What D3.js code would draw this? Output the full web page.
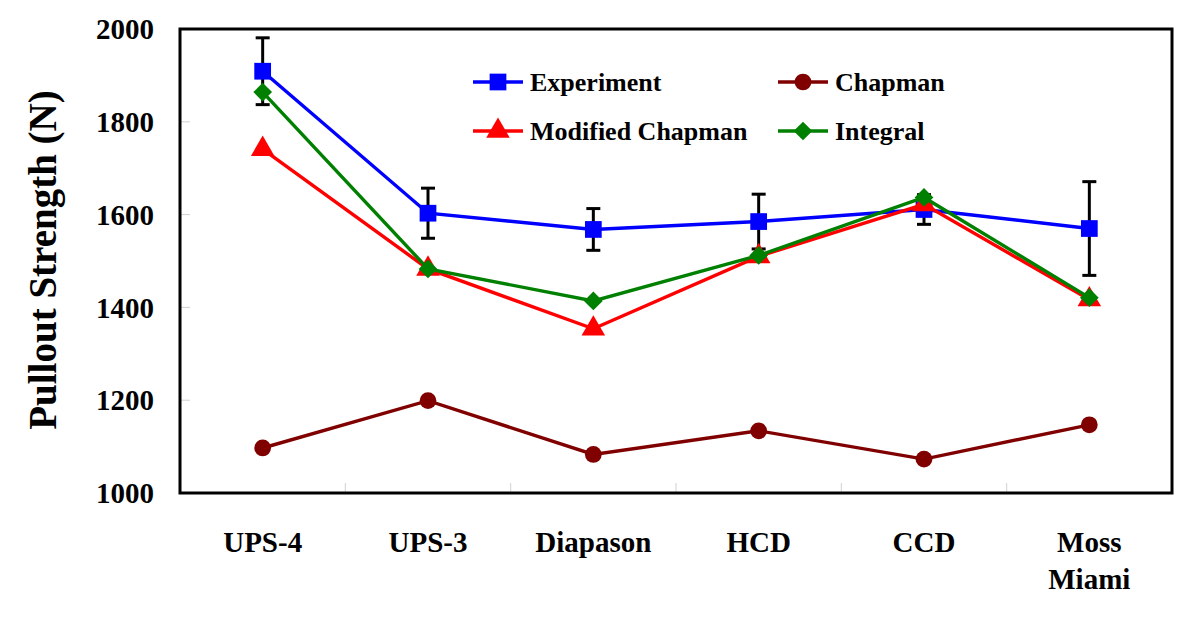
<!DOCTYPE html>
<html>
<head>
<meta charset="utf-8">
<script src="https://cdn.jsdelivr.net/npm/d3@7/dist/d3.min.js"></script>
<style>
  html, body { margin: 0; padding: 0; background: #fff; }
</style>
</head>
<body>
<svg id="chart" width="1200" height="619"></svg>
<script>
const categories = ["UPS-4", "UPS-3", "Diapason", "HCD", "CCD", "Moss Miami"];
const experiment = [1909, 1603, 1568, 1585, 1611, 1570];
const experimentErr = [72, 54, 45, 59, 32, 101];
const chapman = [1097, 1199, 1083, 1134, 1073, 1147];
const modifiedChapman = [1741, 1483, 1354, 1510, 1622, 1417];
const integral = [1864, 1483, 1414, 1512, 1637, 1421];
const yTicks = [1000, 1200, 1400, 1600, 1800, 2000];

const FONT = "'Liberation Serif', 'Times New Roman', Times, serif";

const series = [
  { name: "Experiment", values: experiment, color: "#0000ff", symbol: d3.symbolSquare, size: 280, rot: 0 },
  { name: "Chapman", values: chapman, color: "#800000", symbol: d3.symbolCircle, size: 220, rot: 0 },
  { name: "Modified Chapman", values: modifiedChapman, color: "#ff0000", symbol: d3.symbolTriangle, size: 240, rot: 0 },
  { name: "Integral", values: integral, color: "#008000", symbol: d3.symbolSquare, size: 175, rot: 45 }
];

const svg = d3.select("#chart");
const L = 180, R = 1172, T = 29, B = 493;

const x = d3.scaleBand().domain(categories).range([L, R]);
const y = d3.scaleLinear().domain([1000, 2000]).range([B, T]);

// inner tick marks (light grey)
svg.append("g").selectAll("line").data(yTicks.slice(1, -1)).join("line")
  .attr("x1", L).attr("x2", L + 10)
  .attr("y1", d => y(d)).attr("y2", d => y(d))
  .attr("stroke", "#d0d0d0").attr("stroke-width", 1);
svg.append("g").selectAll("line").data(categories.slice(1)).join("line")
  .attr("x1", d => x(d)).attr("x2", d => x(d))
  .attr("y1", B).attr("y2", B - 10)
  .attr("stroke", "#d0d0d0").attr("stroke-width", 1);

// frame
svg.append("rect").attr("x", L).attr("y", T).attr("width", R - L).attr("height", B - T)
  .attr("fill", "none").attr("stroke", "#000").attr("stroke-width", 3);

// y tick labels
svg.append("g").selectAll("text").data(yTicks).join("text")
  .attr("font-family", FONT).attr("font-weight", "bold")
  .attr("x", 154).attr("y", d => y(d)).attr("dy", "0.35em")
  .attr("text-anchor", "end").attr("font-size", 29).text(d => d);

// y title
svg.append("text")
  .attr("font-family", FONT).attr("font-weight", "bold")
  .attr("transform", `translate(56, ${(T + B) / 2 - 1}) rotate(-90)`)
  .attr("text-anchor", "middle").attr("font-size", 39)
  .text("Pullout Strength (N)");

// x labels
const cx = d => x(d) + x.bandwidth() / 2;
svg.append("g").selectAll("text").data(categories).join("text")
  .attr("font-family", FONT).attr("font-weight", "bold")
  .attr("text-anchor", "middle").attr("font-size", 29)
  .attr("x", d => cx(d)).attr("y", 552)
  .each(function (d) {
    const parts = d.split(" ");
    const t = d3.select(this);
    parts.forEach((p, i) => {
      t.append("tspan").attr("x", cx(d)).attr("dy", i === 0 ? 0 : 37).text(p);
    });
  });

// error bars
const eb = svg.append("g").attr("stroke", "#000").attr("stroke-width", 3);
categories.forEach((c, i) => {
  const hi = y(experiment[i] + experimentErr[i]);
  const lo = y(experiment[i] - experimentErr[i]);
  eb.append("line").attr("x1", cx(c)).attr("x2", cx(c)).attr("y1", hi).attr("y2", lo);
  eb.append("line").attr("x1", cx(c) - 7).attr("x2", cx(c) + 7).attr("y1", hi).attr("y2", hi);
  eb.append("line").attr("x1", cx(c) - 7).attr("x2", cx(c) + 7).attr("y1", lo).attr("y2", lo);
});

// series
const line = d3.line().x((d, i) => cx(categories[i])).y(d => y(d));
series.forEach(s => {
  const g = svg.append("g");
  g.append("path").datum(s.values).attr("d", line)
    .attr("fill", "none").attr("stroke", s.color).attr("stroke-width", 3.4);
  g.selectAll("path.m").data(s.values).join("path").attr("class", "m")
    .attr("d", d3.symbol().type(s.symbol).size(s.size))
    .attr("transform", (d, i) => `translate(${cx(categories[i])},${y(d)}) rotate(${s.rot})`)
    .attr("fill", s.color);
});

// legend
const legendPos = [
  { x: 473, y: 82 }, { x: 778, y: 82 }, { x: 473, y: 131 }, { x: 778, y: 131 }
];
series.forEach((s, i) => {
  const p = legendPos[i];
  const g = svg.append("g").attr("transform", `translate(${p.x},${p.y})`);
  g.append("line").attr("x1", 0).attr("x2", 50).attr("y1", 0).attr("y2", 0)
    .attr("stroke", s.color).attr("stroke-width", 3.4);
  g.append("path").attr("d", d3.symbol().type(s.symbol).size(s.size))
    .attr("transform", `translate(25,0) rotate(${s.rot})`).attr("fill", s.color);
  g.append("text").attr("font-family", FONT).attr("font-weight", "bold")
    .attr("x", 57).attr("y", 0).attr("dy", "0.35em")
    .attr("font-size", 26).text(s.name);
});
</script>
</body>
</html>
